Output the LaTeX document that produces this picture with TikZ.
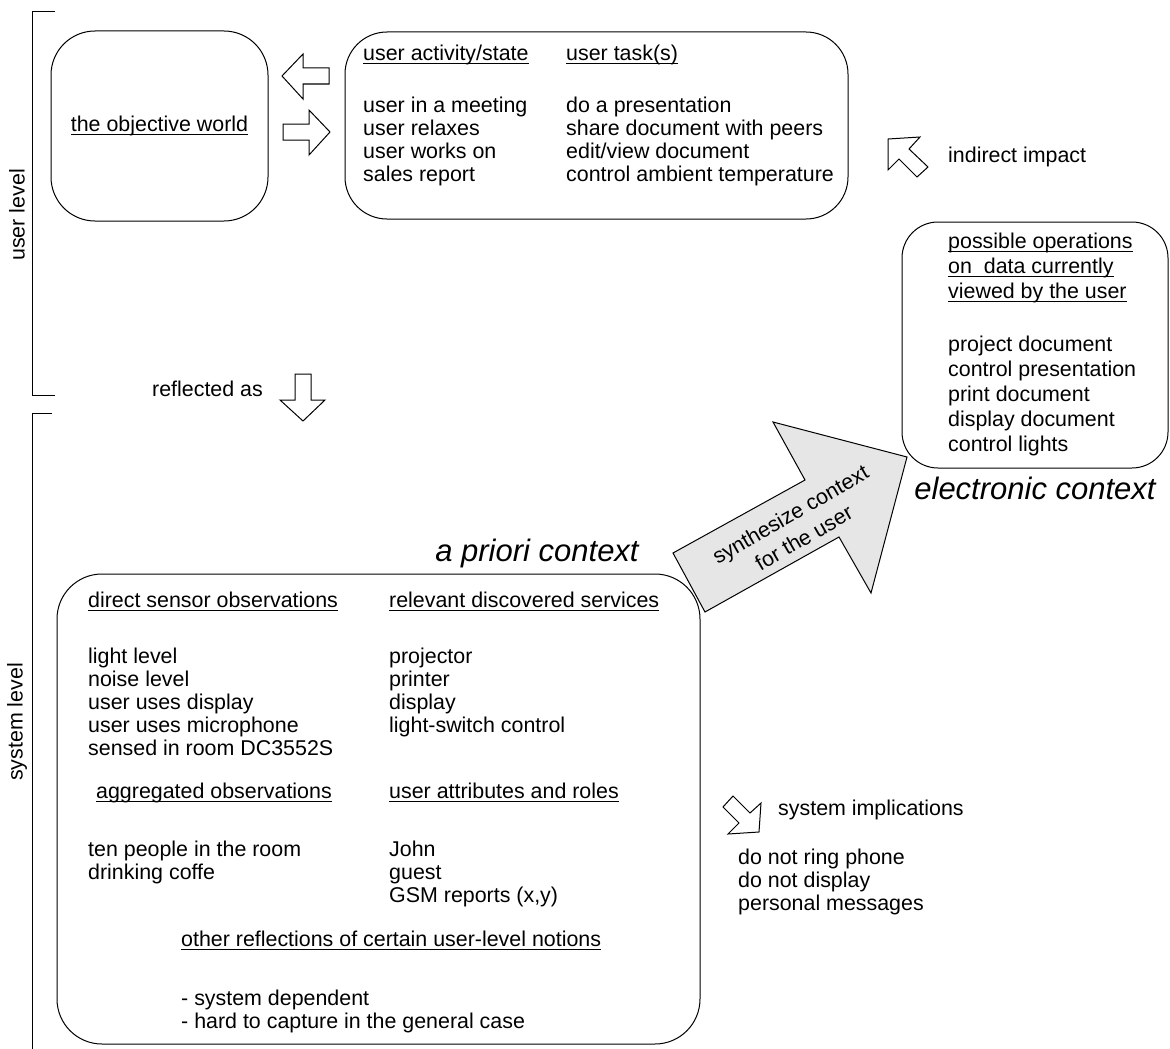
\documentclass[tikz,border=0pt]{standalone}
\usepackage{fontspec}
\setmainfont{Liberation Sans}
\definecolor{arrowgray}{RGB}{230,230,230}
% underline drawn at a fixed depth below the baseline
\newcommand{\ul}[1]{\setbox0\hbox{#1}\rlap{\rule[-3.8pt]{\wd0}{1pt}}\box0}
% left-aligned stack of lines; its baseline is the first line's baseline
\newcommand{\stack}[1]{\vtop{\halign{##\hfil\cr#1\crcr}}}
\newcommand{\bodyfont}{\fontsize{21.4}{23}\selectfont}
\newcommand{\widefont}{\fontsize{21.4}{25}\selectfont}
\newcommand{\loosefont}{\fontsize{21.4}{27}\selectfont}
\newcommand{\ctxfont}{\fontsize{31}{34}\selectfont\itshape}
\begin{document}
\begin{tikzpicture}[x=1pt,y=-1pt,
  roundbox/.style={draw, line width=1pt, rounded corners=#1, inner sep=0pt},
  roundbox/.default=42pt,
  blockarrow/.style={draw, line width=1pt, line join=miter},
  txt/.style={anchor=base west, inner sep=0pt, font=\bodyfont},
  ctxlabel/.style={inner sep=0pt, font=\ctxfont},
  bracket/.style={draw, line width=1pt}]
\useasboundingbox (0,0) rectangle (1170,1049);

% level brackets and their labels
\draw[bracket] (55,12) -- (32,12) -- (32,395) -- (55,395);
\draw[bracket] (52,413) -- (32,413) -- (32,1049);
\node[rotate=90, inner sep=0pt, font=\bodyfont] (userlevel) at (17,215) {user level};
\node[rotate=90, inner sep=0pt, font=\bodyfont] (systemlevel) at (17,722) {system level};

% user level: the objective world and the user's activities
\node[roundbox=44pt, minimum width=217pt, minimum height=190pt, font=\bodyfont]
  (world) at (159.5,126) {\ul{the objective world}};
\node[roundbox=42pt, minimum width=503pt, minimum height=187pt] (tasks) at (596.5,125.5) {};
\node[txt] (acthead) at (363,60.5) {\ul{user activity/state}};
\node[txt] (taskhead) at (566,60.5) {\ul{user task(s)}};
\node[txt] (actlist) at (363,112.5) {\stack{user in a meeting\cr user relaxes\cr user works on\cr sales report}};
\node[txt] (tasklist) at (566,112.5) {\stack{do a presentation\cr share document with peers\cr edit/view document\cr control ambient temperature}};

% two-way block arrows between the world and the user
\draw[blockarrow] (282,76) -- (303,54) -- (303,68) -- (329,68) -- (329,84) -- (303,84) -- (303,99) -- cycle;
\draw[blockarrow] (330,132) -- (309,110) -- (309,124) -- (283,124) -- (283,140) -- (309,140) -- (309,155) -- cycle;

% indirect impact
\draw[blockarrow] (888,139) -- (920,137) -- (909,149) -- (928,167) -- (917,177) -- (899,159) -- (888,170) -- cycle;
\node[txt] (impact) at (948,162.5) {indirect impact};

% electronic context
\node[roundbox=36pt, minimum width=266pt, minimum height=246pt] (ops) at (1035,345) {};
\node[anchor=base west, inner sep=0pt, font=\widefont] (opshead) at (948,248)
  {\stack{\ul{possible operations}\cr \ul{on\ \ data currently}\cr \ul{viewed by the user}}};
\node[anchor=base west, inner sep=0pt, font=\widefont] (opslist) at (948,351)
  {\stack{project document\cr control presentation\cr print document\cr display document\cr control lights}};
\node[ctxlabel] (elabel) at (1035,488) {electronic context};

% reflected as
\node[txt] (reflected) at (152,396) {reflected as};
\draw[blockarrow] (295,374) -- (311,374) -- (311,400) -- (325,400) -- (303,421) -- (280,400) -- (295,400) -- cycle;

% synthesis arrow
\draw[blockarrow, fill=arrowgray] (705,612) -- (673,553) -- (805,480) -- (773,422) -- (907,457) -- (871,593) -- (839,537) -- cycle;
\node[rotate=30, align=center, inner sep=0pt, font=\loosefont] (synth) at (797,526) {synthesize context\\for the user};

% a priori context
\node[ctxlabel] (alabel) at (537,553) {a priori context};
\node[roundbox=45pt, minimum width=643pt, minimum height=470pt] (apriori) at (378.5,809) {};
\node[txt] (sensehead) at (88,607) {\ul{direct sensor observations}};
\node[txt] (servhead) at (389,607) {\ul{relevant discovered services}};
\node[txt] (senselist) at (88,663) {\stack{light level\cr noise level\cr user uses display\cr user uses microphone\cr sensed in room DC3552S}};
\node[txt] (servlist) at (389,663) {\stack{projector\cr printer\cr display\cr light-switch control}};
\node[txt] (agghead) at (96,798) {\ul{aggregated observations}};
\node[txt] (rolehead) at (389,798) {\ul{user attributes and roles}};
\node[txt] (agglist) at (88,856) {\stack{ten people in the room\cr drinking coffe}};
\node[txt] (rolelist) at (389,856) {\stack{John\cr guest\cr GSM reports (x,y)}};
\node[txt] (otherhead) at (181,946) {\ul{other reflections of certain user-level notions}};
\node[txt] (otherlist) at (181,1005) {\stack{- system dependent\cr - hard to capture in the general case}};

% system implications
\draw[blockarrow] (723,807) -- (733,796) -- (750,813) -- (761,803) -- (759,832) -- (728,834) -- (739,823) -- cycle;
\node[txt] (implhead) at (778,815) {system implications};
\node[txt] (impllist) at (738,864) {\stack{do not ring phone\cr do not display\cr personal messages}};
\end{tikzpicture}
\end{document}
